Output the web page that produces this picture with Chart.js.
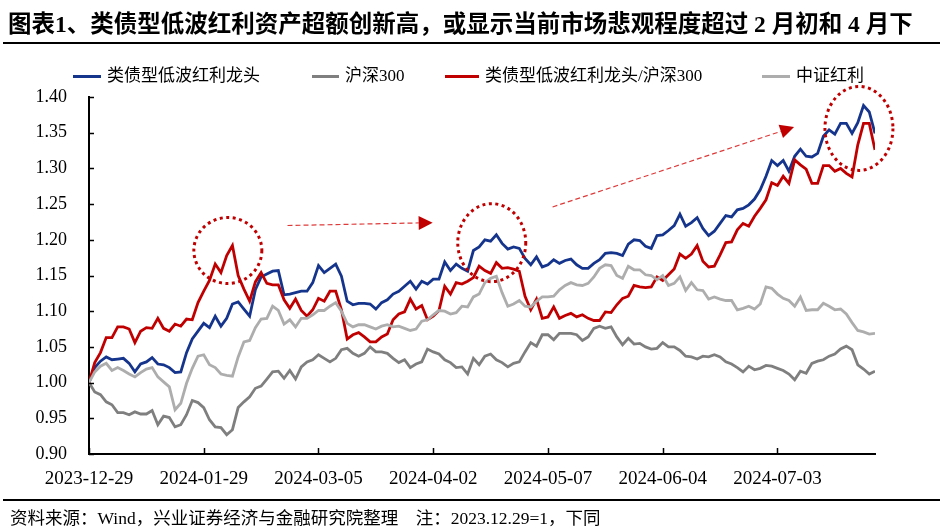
<!DOCTYPE html>
<html>
<head>
<meta charset="utf-8">
<script src="https://cdn.jsdelivr.net/npm/chart.js@4.4.1/dist/chart.umd.min.js"></script>
<style>
  body { margin: 0; background: #fff; }
  #wrap { position: relative; width: 945px; height: 532px; overflow: hidden;
          font-family: "Liberation Serif", "Noto Sans CJK SC", serif; color: #000; }
  #chart { position: absolute; left: 0; top: 0; }
  #title { position: absolute; left: 8px; top: 5px; font-size: 23.5px; font-weight: bold; white-space: nowrap; }
  .rule { position: absolute; left: 3px; width: 937px; height: 2px; background: #000; }
  #footer { position: absolute; left: 10px; top: 504px; font-size: 17.5px; white-space: pre; }
  .leg { position: absolute; top: 65px; font-size: 17px; white-space: nowrap; line-height: 22px; }
  .leg i { display: inline-block; width: 28px; height: 3px; vertical-align: middle; margin-right: 6px; position: relative; top: -1px; }
</style>
</head>
<body>
<div id="wrap">
  <canvas id="chart" width="945" height="532"></canvas>
  <div id="title">图表1、类债型低波红利资产超额创新高，或显示当前市场悲观程度超过 2 月初和 4 月下</div>
  <div class="rule" style="top:42px"></div>
  <div id="legend"></div>
  <div class="rule" style="top:499px"></div>
  <div id="footer">资料来源：Wind，兴业证券经济与金融研究院整理    注：2023.12.29=1，下同</div>
</div>
<script>
// tick labels on the x axis (trading-day index of each)
const xTickLabels = ['2023-12-29', '2024-01-29', '2024-03-05', '2024-04-02', '2024-05-07', '2024-06-04', '2024-07-03'];
const xTickIndex = [0, 20, 40, 60, 80, 100, 120];

// 类债型低波红利龙头
const leaders = [
  1.000, 1.021, 1.030, 1.036, 1.032, 1.033, 1.034, 1.027, 1.015, 1.026,
  1.029, 1.035, 1.026, 1.025, 1.021, 1.014, 1.015, 1.042, 1.061, 1.072,
  1.083, 1.077, 1.093, 1.079, 1.090, 1.110, 1.113, 1.103, 1.093, 1.130,
  1.148, 1.152, 1.156, 1.157, 1.123, 1.124, 1.126, 1.128, 1.128, 1.140,
  1.164, 1.154, 1.160, 1.166, 1.149, 1.114, 1.109, 1.111, 1.111, 1.110,
  1.103, 1.112, 1.116, 1.124, 1.128, 1.135, 1.142, 1.131, 1.142, 1.138,
  1.145, 1.145, 1.169, 1.157, 1.166, 1.160, 1.156, 1.185, 1.190, 1.200,
  1.198, 1.207, 1.195, 1.187, 1.190, 1.188, 1.174, 1.165, 1.176, 1.162,
  1.165, 1.172, 1.167, 1.171, 1.173, 1.165, 1.160, 1.160, 1.167, 1.172,
  1.181, 1.182, 1.181, 1.178, 1.194, 1.200, 1.199, 1.191, 1.188, 1.206,
  1.207, 1.213, 1.220, 1.236, 1.219, 1.224, 1.231, 1.216, 1.206, 1.212,
  1.223, 1.234, 1.232, 1.242, 1.244, 1.249, 1.257, 1.270, 1.289, 1.311,
  1.304, 1.311, 1.296, 1.317, 1.327, 1.317, 1.316, 1.321, 1.345, 1.354,
  1.348, 1.363, 1.363, 1.349, 1.364, 1.388, 1.379, 1.349
];

// 沪深300
const csi300 = [
  1.000, 0.987, 0.983, 0.973, 0.969, 0.958, 0.958, 0.955, 0.959, 0.956,
  0.956, 0.961, 0.941, 0.953, 0.951, 0.938, 0.941, 0.955, 0.975, 0.972,
  0.965, 0.948, 0.938, 0.937, 0.927, 0.934, 0.965, 0.973, 0.980, 0.992,
  0.995, 1.005, 1.015, 1.016, 1.006, 1.017, 1.005, 1.022, 1.029, 1.032,
  1.039, 1.034, 1.029, 1.034, 1.046, 1.048, 1.041, 1.037, 1.041, 1.050,
  1.043, 1.043, 1.041, 1.034, 1.028, 1.032, 1.021, 1.026, 1.029, 1.047,
  1.043, 1.040, 1.032, 1.028, 1.021, 1.022, 1.012, 1.034, 1.025, 1.037,
  1.040, 1.032, 1.028, 1.022, 1.027, 1.029, 1.043, 1.056, 1.051, 1.067,
  1.067, 1.060, 1.069, 1.069, 1.069, 1.067, 1.059, 1.064, 1.076, 1.079,
  1.076, 1.078, 1.064, 1.053, 1.062, 1.054, 1.055, 1.050, 1.047, 1.048,
  1.056, 1.050, 1.050, 1.045, 1.037, 1.036, 1.033, 1.037, 1.036, 1.039,
  1.036, 1.029, 1.026, 1.021, 1.015, 1.023, 1.018, 1.020, 1.024, 1.023,
  1.020, 1.017, 1.012, 1.004, 1.016, 1.013, 1.027, 1.030, 1.032, 1.037,
  1.040, 1.047, 1.051, 1.046, 1.025, 1.019, 1.012, 1.016
];

// 类债型低波红利龙头/沪深300
const ratio = [
  1.000, 1.028, 1.042, 1.063, 1.063, 1.078, 1.078, 1.075, 1.056, 1.072,
  1.077, 1.076, 1.090, 1.076, 1.072, 1.082, 1.079, 1.089, 1.088, 1.112,
  1.128, 1.143, 1.166, 1.154, 1.178, 1.192, 1.150, 1.131, 1.114, 1.141,
  1.154, 1.139, 1.137, 1.137, 1.116, 1.104, 1.117, 1.101, 1.093, 1.102,
  1.118, 1.114, 1.128, 1.128, 1.102, 1.061, 1.067, 1.070, 1.064, 1.057,
  1.057, 1.064, 1.068, 1.088, 1.096, 1.099, 1.117, 1.103, 1.108, 1.088,
  1.093, 1.101, 1.135, 1.124, 1.140, 1.138, 1.142, 1.147, 1.163, 1.157,
  1.153, 1.168, 1.160, 1.161, 1.159, 1.156, 1.121, 1.102, 1.117, 1.090,
  1.092, 1.106, 1.090, 1.094, 1.097, 1.092, 1.095, 1.090, 1.087, 1.087,
  1.099, 1.098, 1.109, 1.118, 1.121, 1.136, 1.134, 1.133, 1.134, 1.148,
  1.143, 1.151, 1.159, 1.180, 1.174, 1.180, 1.192, 1.170, 1.162, 1.163,
  1.179, 1.196, 1.197, 1.214, 1.223, 1.219, 1.233, 1.244, 1.256, 1.280,
  1.276, 1.289, 1.279, 1.312, 1.305, 1.299, 1.279, 1.279, 1.304, 1.304,
  1.296, 1.300, 1.293, 1.288, 1.333, 1.363, 1.363, 1.326
];

// 中证红利
const csiDividend = [
  1.000, 1.015, 1.023, 1.027, 1.017, 1.021, 1.017, 1.012, 1.008, 1.014,
  1.019, 1.021, 1.008, 1.001, 0.994, 0.962, 0.971, 0.999, 1.020, 1.037,
  1.039, 1.025, 1.021, 1.012, 1.010, 1.009, 1.036, 1.057, 1.059, 1.077,
  1.089, 1.090, 1.107, 1.101, 1.082, 1.088, 1.078, 1.090, 1.090, 1.095,
  1.101, 1.101, 1.107, 1.112, 1.100, 1.083, 1.078, 1.081, 1.081, 1.078,
  1.075, 1.079, 1.081, 1.078, 1.079, 1.076, 1.073, 1.075, 1.086, 1.088,
  1.095, 1.101, 1.100, 1.096, 1.098, 1.107, 1.106, 1.120, 1.124, 1.140,
  1.146, 1.149, 1.126, 1.107, 1.110, 1.115, 1.107, 1.106, 1.114, 1.120,
  1.120, 1.121, 1.130, 1.136, 1.140, 1.137, 1.136, 1.139, 1.148, 1.160,
  1.165, 1.164, 1.150, 1.146, 1.163, 1.158, 1.158, 1.151, 1.150, 1.144,
  1.150, 1.136, 1.139, 1.148, 1.129, 1.140, 1.130, 1.129, 1.117, 1.120,
  1.117, 1.115, 1.115, 1.102, 1.104, 1.107, 1.103, 1.110, 1.134, 1.132,
  1.124, 1.118, 1.115, 1.107, 1.120, 1.101, 1.102, 1.102, 1.111, 1.107,
  1.102, 1.103, 1.096, 1.084, 1.073, 1.071, 1.068, 1.069
];

const seriesNames = ['类债型低波红利龙头', '沪深300', '类债型低波红利龙头/沪深300', '中证红利'];
const seriesColors = ['#15348C', '#7F7F7F', '#C00000', '#ADADAD'];
const seriesData = [leaders, csi300, ratio, csiDividend];

// dotted circles and dashed arrows, placed in data coordinates
const circleNotes = [
  { i: 24.2, v: 1.185, rx: 34, ry: 33 },
  { i: 70.2, v: 1.196, rx: 34, ry: 39 },
  { i: 134.2, v: 1.356, rx: 34, ry: 42 }
];
const arrowNotes = [
  { i0: 34.6, v0: 1.220, i1: 59.9, v1: 1.224 },
  { i0: 80.8, v0: 1.246, i1: 122.9, v1: 1.358 }
];

// legend (html)
const legendLeft = [73, 312, 445, 762];
const legendSwatch = [28, 27, 34, 28];
const legend = document.getElementById('legend');
seriesNames.forEach((name, k) => {
    const d = document.createElement('div');
    d.className = 'leg';
    d.style.left = legendLeft[k] + 'px';
    d.innerHTML = `<i style="background:${seriesColors[k]};width:${legendSwatch[k]}px"></i>${name}`;
    legend.appendChild(d);
});

const axisMarks = {
    id: 'axisMarks',
    afterDraw(chart) {
        const { ctx, scales: { x, y }, chartArea: a } = chart;
        ctx.save();
        ctx.strokeStyle = '#000';
        ctx.lineWidth = 1.5;
        ctx.beginPath();
        y.ticks.forEach(t => {
            const py = Math.round(y.getPixelForValue(t.value)) + 0.5;
            ctx.moveTo(a.left, py);
            ctx.lineTo(a.left + 5, py);
        });
        x.ticks.forEach(t => {
            const px = Math.round(x.getPixelForValue(t.value)) + 0.5;
            ctx.moveTo(px, a.bottom);
            ctx.lineTo(px, a.bottom - 6);
        });
        ctx.stroke();
        ctx.restore();
    }
};

const notes = {
    id: 'notes',
    afterDatasetsDraw(chart) {
        const { ctx, scales: { x, y } } = chart;
        ctx.save();
        // circles
        ctx.strokeStyle = '#C00000';
        ctx.lineWidth = 3;
        ctx.setLineDash([3, 3.5]);
        circleNotes.forEach(c => {
            ctx.beginPath();
            ctx.ellipse(x.getPixelForValue(c.i), y.getPixelForValue(c.v), c.rx, c.ry, 0, 0, Math.PI * 2);
            ctx.stroke();
        });
        // arrows
        arrowNotes.forEach(a => {
            const x0 = x.getPixelForValue(a.i0), y0 = y.getPixelForValue(a.v0);
            const x1 = x.getPixelForValue(a.i1), y1 = y.getPixelForValue(a.v1);
            const ang = Math.atan2(y1 - y0, x1 - x0);
            const head = 14, half = 7;
            const bx = x1 - head * Math.cos(ang), by = y1 - head * Math.sin(ang);
            ctx.strokeStyle = '#DE3A3A';
            ctx.lineWidth = 1.2;
            ctx.setLineDash([5, 3]);
            ctx.beginPath();
            ctx.moveTo(x0, y0);
            ctx.lineTo(bx, by);
            ctx.stroke();
            ctx.setLineDash([]);
            ctx.fillStyle = '#C00000';
            ctx.beginPath();
            ctx.moveTo(x1, y1);
            ctx.lineTo(bx + half * Math.sin(ang), by - half * Math.cos(ang));
            ctx.lineTo(bx - half * Math.sin(ang), by + half * Math.cos(ang));
            ctx.closePath();
            ctx.fill();
        });
        ctx.restore();
    }
};

new Chart(document.getElementById('chart'), {
    type: 'line',
    data: {
        datasets: seriesData.map((vals, k) => ({
            label: seriesNames[k],
            data: vals.map((v, i) => ({ x: i, y: v })),
            borderColor: seriesColors[k],
            backgroundColor: seriesColors[k],
            borderWidth: 2.8,
            pointRadius: 0,
            tension: 0,
            fill: false,
            order: 4 - k
        }))
    },
    options: {
        responsive: false,
        animation: false,
        devicePixelRatio: 1,
        layout: { padding: { top: 97, right: 70, bottom: 0, left: 0 } },
        plugins: { legend: { display: false }, tooltip: { enabled: false } },
        scales: {
            x: {
                type: 'linear',
                min: 0,
                max: leaders.length - 1,
                afterBuildTicks: s => { s.ticks = xTickIndex.map(v => ({ value: v })); },
                afterFit: s => { s.height = 78; },
                grid: { display: false, drawTicks: false },
                border: { display: true, color: '#000', width: 2 },
                ticks: {
                    autoSkip: false,
                    maxRotation: 0,
                    padding: 14,
                    color: '#000',
                    font: { family: '"Liberation Serif", serif', size: 19 },
                    callback: v => xTickLabels[xTickIndex.indexOf(v)]
                }
            },
            y: {
                min: 0.9,
                max: 1.4,
                afterFit: s => { s.width = 89; },
                grid: { display: false, drawTicks: false },
                border: { display: true, color: '#000', width: 2 },
                ticks: {
                    stepSize: 0.05,
                    padding: 22,
                    color: '#000',
                    font: { family: '"Liberation Serif", serif', size: 18 },
                    callback: v => v.toFixed(2)
                }
            }
        }
    },
    plugins: [axisMarks, notes]
});
</script>
</body>
</html>
